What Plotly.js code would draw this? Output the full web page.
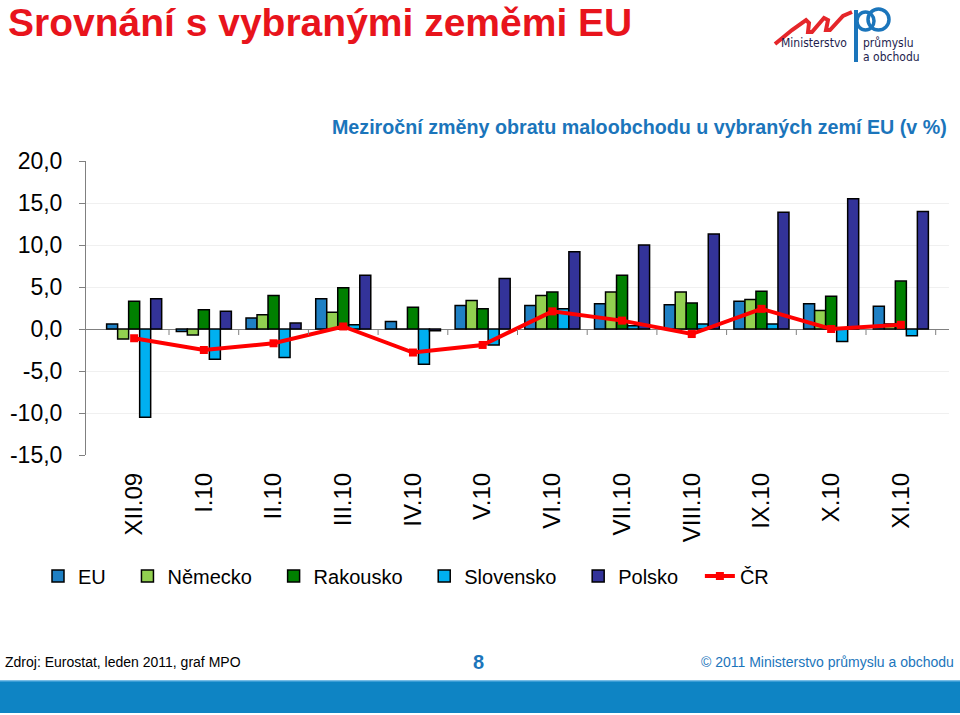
<!DOCTYPE html>
<html>
<head>
<meta charset="utf-8">
<script src="https://cdn.plot.ly/plotly-3.0.1.min.js"></script>
<style>
  html, body { margin: 0; padding: 0; background: #ffffff; }
  #chart { width: 960px; height: 715px; }
</style>
</head>
<body>
<div id="chart"></div>
<script>
// ---- data ----
const categories = ['XII.09','I.10','II.10','III.10','IV.10','V.10','VI.10','VII.10','VIII.10','IX.10','X.10','XI.10'];
const seriesNames = ['EU','Německo','Rakousko','Slovensko','Polsko','ČR'];
const euValues        = [0.6, -0.3, 1.3, 3.6, 0.9, 2.8, 2.8, 3.0, 2.9, 3.3, 3.0, 2.7];
const nemeckoValues   = [-1.2, -0.7, 1.7, 2.0, 0.0, 3.4, 4.0, 4.4, 4.4, 3.5, 2.2, 0.6];
const rakouskoValues  = [3.3, 2.3, 4.0, 4.9, 2.6, 2.4, 4.4, 6.4, 3.1, 4.5, 3.9, 5.7];
const slovenskoValues = [-10.5, -3.6, -3.4, 0.5, -4.2, -1.9, 2.4, 0.4, 0.6, 0.6, -1.5, -0.8];
const polskoValues    = [3.6, 2.1, 0.7, 6.4, -0.2, 6.0, 9.2, 10.0, 11.3, 13.9, 15.5, 14.0];
const crValues        = [-1.1, -2.5, -1.7, 0.3, -2.8, -1.9, 2.1, 1.0, -0.6, 2.4, 0.0, 0.5];
const yTickValues = [-15, -10, -5, 0, 5, 10, 15, 20];
const yTickLabels = ['-15,0', '-10,0', '-5,0', '0,0', '5,0', '10,0', '15,0', '20,0'];

const pageTitle = 'Srovnání s vybranými zeměmi EU';
const chartTitle = 'Meziroční změny obratu maloobchodu u vybraných zemí EU (v %)';
const sourceText = 'Zdroj: Eurostat, leden 2011, graf MPO';
const pageNumber = '8';
const copyrightText = '© 2011 Ministerstvo průmyslu a obchodu';

// ---- styles ----
const barColors = ['#1f80c4', '#92d050', '#008000', '#00b0f0', '#333399'];
const lineColor = '#ff0000';
const FONT = 'Liberation Sans, Arial, sans-serif';
const NARROW = 'Liberation Sans Narrow, DejaVu Sans Condensed, Arial, sans-serif';
const legendPad = '\u00a0\u00a0\u00a0';

// plot area in pixels
const L = 86, R = 949, T = 161, B = 455;
const X = p => (p - L) / (R - L);
const Y = p => (B - p) / (B - T);

const barSeries = [euValues, nemeckoValues, rakouskoValues, slovenskoValues, polskoValues];
const traces = barSeries.map((vals, i) => ({
  type: 'bar',
  name: seriesNames[i] + legendPad,
  x: categories,
  y: vals,
  marker: { color: barColors[i], line: { color: '#000000', width: 1.5 } }
}));
traces.push({
  type: 'scatter',
  mode: 'lines+markers',
  name: seriesNames[5],
  x: categories,
  y: crValues,
  line: { color: lineColor, width: 4 },
  marker: { color: lineColor, symbol: 'square', size: 8 }
});

// category boundary ticks on the zero line
const shapes = [];
for (let i = 0; i < categories.length; i++) {
  shapes.push({
    type: 'line', xref: 'x', yref: 'y', x0: i + 0.5, x1: i + 0.5,
    ysizemode: 'pixel', yanchor: 0, y0: 0, y1: -6,
    line: { color: '#808080', width: 1 }
  });
}
// footer band
shapes.push({ type: 'rect', xref: 'paper', yref: 'paper', layer: 'below',
  x0: X(0), x1: X(960), y0: Y(713), y1: Y(681),
  fillcolor: '#0e84c4', line: { width: 0 } });
shapes.push({ type: 'line', xref: 'paper', yref: 'paper',
  x0: X(0), x1: X(960), y0: Y(681), y1: Y(681),
  line: { color: '#4aa6dc', width: 1.5 } });

// logo (MPO)
const pathPx = pts => pts.map((p, k) => (k ? 'L' : 'M') + X(p[0]).toFixed(5) + ',' + Y(p[1]).toFixed(5)).join(' ');
shapes.push({ type: 'path', xref: 'paper', yref: 'paper',
  path: pathPx([[775,44],[792,30],[806,20],[809,23],[808,32],[812,32],[824,18],[828,20],[826,30],[830,30],[843,16],[852,12]]),
  line: { color: '#e5262a', width: 4 } });
shapes.push({ type: 'line', xref: 'paper', yref: 'paper',
  x0: X(856), x1: X(856), y0: Y(62), y1: Y(10), line: { color: '#1b75bb', width: 4 } });
shapes.push({ type: 'circle', xref: 'paper', yref: 'paper',
  x0: X(857), x1: X(874), y0: Y(30), y1: Y(12), line: { color: '#1b75bb', width: 3.5 }, fillcolor: 'rgba(0,0,0,0)' });
shapes.push({ type: 'circle', xref: 'paper', yref: 'paper',
  x0: X(868), x1: X(889), y0: Y(30), y1: Y(9), line: { color: '#1b75bb', width: 3.5 }, fillcolor: 'rgba(0,0,0,0)' });

const annotations = [
  { text: '<b>' + pageTitle + '</b>', xref: 'paper', yref: 'paper', x: X(6), y: Y(23),
    xanchor: 'left', yanchor: 'middle', showarrow: false,
    font: { family: FONT, size: 39, color: '#e8141c' } },
  { text: sourceText, xref: 'paper', yref: 'paper', x: X(3), y: Y(662),
    xanchor: 'left', yanchor: 'middle', showarrow: false,
    font: { family: FONT, size: 14, color: '#000000' } },
  { text: '<b>' + pageNumber + '</b>', xref: 'paper', yref: 'paper', x: X(478), y: Y(662),
    xanchor: 'center', yanchor: 'middle', showarrow: false,
    font: { family: FONT, size: 20, color: '#1b75bb' } },
  { text: copyrightText, xref: 'paper', yref: 'paper', x: X(956), y: Y(662),
    xanchor: 'right', yanchor: 'middle', showarrow: false,
    font: { family: FONT, size: 14, color: '#1b75bb' } },
  { text: 'Ministerstvo', xref: 'paper', yref: 'paper', x: X(849), y: Y(43),
    xanchor: 'right', yanchor: 'middle', showarrow: false,
    font: { family: NARROW, size: 12, color: '#1d1d4d' } },
  { text: 'průmyslu', xref: 'paper', yref: 'paper', x: X(861), y: Y(43),
    xanchor: 'left', yanchor: 'middle', showarrow: false,
    font: { family: NARROW, size: 12, color: '#1d1d4d' } },
  { text: 'a obchodu', xref: 'paper', yref: 'paper', x: X(861), y: Y(57),
    xanchor: 'left', yanchor: 'middle', showarrow: false,
    font: { family: NARROW, size: 12, color: '#1d1d4d' } }
];

const layout = {
  width: 960, height: 715,
  paper_bgcolor: '#ffffff', plot_bgcolor: '#ffffff',
  margin: { l: L, r: 960 - R, t: T, b: 715 - B, pad: 0 },
  font: { family: FONT, color: '#000000' },
  title: { text: '<b>' + chartTitle + '</b>', x: 0.666, y: 1 - 127 / 715,
    xanchor: 'center', yanchor: 'middle',
    font: { family: FONT, size: 19.7, color: '#1b75bb' } },
  barmode: 'group', bargap: 0.21, bargroupgap: 0,
  showlegend: true,
  legend: { orientation: 'h', x: X(38), xanchor: 'left', y: Y(576), yanchor: 'middle',
    font: { family: FONT, size: 20, color: '#000000' }, bgcolor: 'rgba(0,0,0,0)',
    traceorder: 'normal' },
  xaxis: { type: 'category', showline: false, ticks: '', showgrid: false,
    tickangle: -90, tickfont: { family: FONT, size: 24, color: '#000000' },
    ticklabelstandoff: 12, fixedrange: true },
  yaxis: { range: [-15, 20], tickvals: yTickValues, ticktext: yTickLabels,
    ticks: 'outside', ticklen: 6, tickcolor: '#808080',
    showline: true, linecolor: '#808080', linewidth: 1,
    showgrid: true, gridcolor: '#f0f0f0', gridwidth: 1,
    zeroline: true, zerolinecolor: '#808080', zerolinewidth: 1,
    tickfont: { family: FONT, size: 23, color: '#000000' },
    ticklabelstandoff: 12, fixedrange: true },
  shapes: shapes,
  annotations: annotations
};

Plotly.newPlot('chart', traces, layout, { displayModeBar: false, staticPlot: true });
</script>
</body>
</html>
